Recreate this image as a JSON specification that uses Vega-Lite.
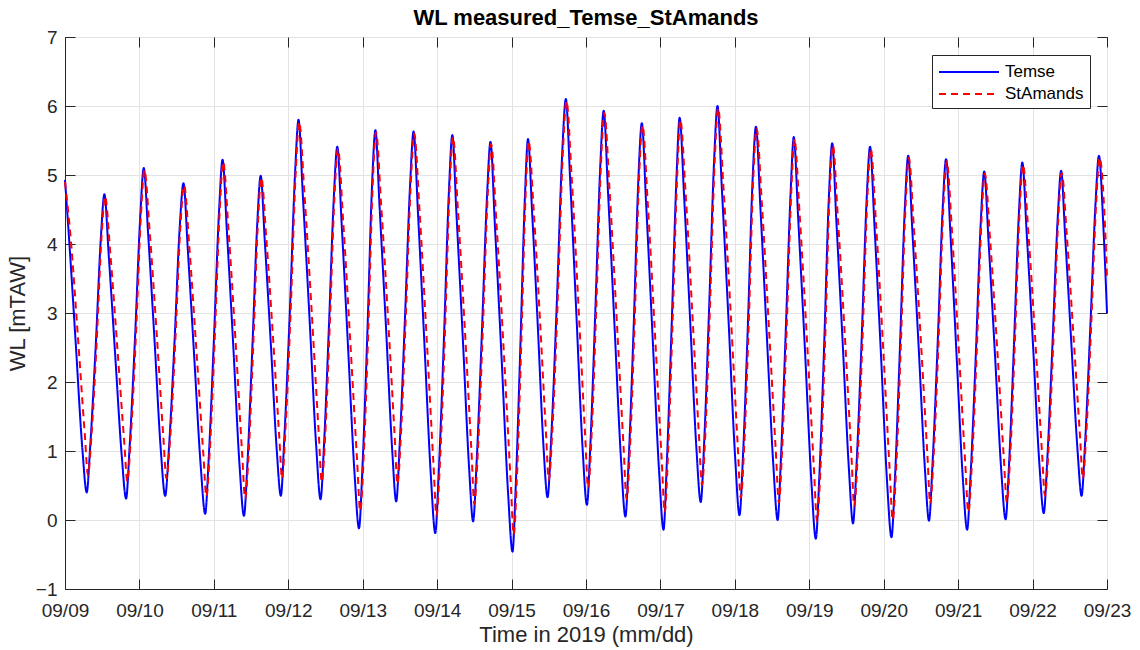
{
"$schema":"https://vega.github.io/schema/vega-lite/v6.json",
"width":1042,"height":552,
"autosize":{"type":"none"},
"padding":{"left":65,"top":37,"right":33,"bottom":61},
"background":"white",
"title":{"text":"WL measured_Temse_StAmands","fontSize":22,"font":"Liberation Sans","fontWeight":"bold","color":"black","offset":-2},
"config":{"font":"Liberation Sans","view":{"stroke":"#262626","strokeWidth":1}},
"data":{"values":[
{"hT":0,"T":4.93,"hS":0,"S":4.90},
{"hT":1.4,"T":4.02,"hS":1.9,"S":4.05},
{"hT":3.5,"T":2.53,"hS":4.2,"S":2.63},
{"hT":5.6,"T":1.03,"hS":6.4,"S":1.23},
{"hT":7.0,"T":0.40,"hS":7.4,"S":0.65},
{"hT":8.1,"T":1.05,"hS":8.5,"S":1.20},
{"hT":9.9,"T":2.52,"hS":10.2,"S":2.57},
{"hT":11.6,"T":4.12,"hS":11.8,"S":4.12},
{"hT":12.7,"T":4.72,"hS":12.9,"S":4.69},
{"hT":14.1,"T":3.84,"hS":14.6,"S":3.87},
{"hT":16.2,"T":2.38,"hS":16.9,"S":2.48},
{"hT":18.3,"T":0.93,"hS":19.1,"S":1.13},
{"hT":19.7,"T":0.31,"hS":20.1,"S":0.56},
{"hT":20.8,"T":1.03,"hS":21.2,"S":1.18},
{"hT":22.6,"T":2.66,"hS":22.9,"S":2.71},
{"hT":24.3,"T":4.43,"hS":24.5,"S":4.43},
{"hT":25.4,"T":5.10,"hS":25.6,"S":5.07},
{"hT":26.8,"T":4.15,"hS":27.3,"S":4.18},
{"hT":28.9,"T":2.58,"hS":29.6,"S":2.68},
{"hT":30.9,"T":1.01,"hS":31.7,"S":1.21},
{"hT":32.3,"T":0.35,"hS":32.7,"S":0.60},
{"hT":33.5,"T":1.03,"hS":33.9,"S":1.18},
{"hT":35.3,"T":2.57,"hS":35.6,"S":2.62},
{"hT":37.0,"T":4.25,"hS":37.2,"S":4.25},
{"hT":38.2,"T":4.88,"hS":38.4,"S":4.85},
{"hT":39.6,"T":3.92,"hS":40.1,"S":3.95},
{"hT":41.7,"T":2.34,"hS":42.4,"S":2.44},
{"hT":43.8,"T":0.76,"hS":44.6,"S":0.96},
{"hT":45.2,"T":0.09,"hS":45.6,"S":0.34},
{"hT":46.3,"T":0.86,"hS":46.7,"S":1.01},
{"hT":48.0,"T":2.60,"hS":48.3,"S":2.65},
{"hT":49.7,"T":4.50,"hS":49.9,"S":4.50},
{"hT":50.8,"T":5.22,"hS":51.0,"S":5.19},
{"hT":52.2,"T":4.19,"hS":52.7,"S":4.22},
{"hT":54.3,"T":2.49,"hS":55.0,"S":2.59},
{"hT":56.3,"T":0.78,"hS":57.1,"S":0.98},
{"hT":57.7,"T":0.06,"hS":58.1,"S":0.31},
{"hT":58.8,"T":0.80,"hS":59.2,"S":0.95},
{"hT":60.4,"T":2.48,"hS":60.7,"S":2.53},
{"hT":62.0,"T":4.30,"hS":62.2,"S":4.30},
{"hT":63.1,"T":4.99,"hS":63.3,"S":4.96},
{"hT":64.4,"T":4.06,"hS":64.9,"S":4.09},
{"hT":66.4,"T":2.53,"hS":67.1,"S":2.63},
{"hT":68.3,"T":1.00,"hS":69.1,"S":1.20},
{"hT":69.6,"T":0.35,"hS":70.0,"S":0.60},
{"hT":70.7,"T":1.17,"hS":71.1,"S":1.32},
{"hT":72.5,"T":3.02,"hS":72.8,"S":3.07},
{"hT":74.2,"T":5.04,"hS":74.4,"S":5.04},
{"hT":75.3,"T":5.80,"hS":75.5,"S":5.77},
{"hT":76.7,"T":4.70,"hS":77.2,"S":4.73},
{"hT":78.9,"T":2.88,"hS":79.6,"S":2.98},
{"hT":81.0,"T":1.07,"hS":81.8,"S":1.27},
{"hT":82.4,"T":0.30,"hS":82.8,"S":0.55},
{"hT":83.5,"T":1.07,"hS":83.9,"S":1.22},
{"hT":85.1,"T":2.80,"hS":85.4,"S":2.85},
{"hT":86.7,"T":4.69,"hS":86.9,"S":4.69},
{"hT":87.8,"T":5.41,"hS":88.0,"S":5.38},
{"hT":89.2,"T":4.30,"hS":89.7,"S":4.33},
{"hT":91.3,"T":2.48,"hS":92.0,"S":2.58},
{"hT":93.4,"T":0.65,"hS":94.2,"S":0.85},
{"hT":94.8,"T":-0.12,"hS":95.2,"S":0.13},
{"hT":95.9,"T":0.75,"hS":96.3,"S":0.90},
{"hT":97.5,"T":2.71,"hS":97.8,"S":2.76},
{"hT":99.0,"T":4.84,"hS":99.2,"S":4.84},
{"hT":100.1,"T":5.65,"hS":100.3,"S":5.62},
{"hT":101.4,"T":4.57,"hS":101.9,"S":4.60},
{"hT":103.5,"T":2.80,"hS":104.2,"S":2.90},
{"hT":105.5,"T":1.02,"hS":106.3,"S":1.22},
{"hT":106.8,"T":0.27,"hS":107.2,"S":0.52},
{"hT":107.9,"T":1.07,"hS":108.3,"S":1.22},
{"hT":109.6,"T":2.90,"hS":109.9,"S":2.95},
{"hT":111.3,"T":4.88,"hS":111.5,"S":4.88},
{"hT":112.4,"T":5.63,"hS":112.6,"S":5.60},
{"hT":113.8,"T":4.47,"hS":114.3,"S":4.50},
{"hT":115.9,"T":2.55,"hS":116.6,"S":2.65},
{"hT":118.0,"T":0.62,"hS":118.8,"S":0.82},
{"hT":119.4,"T":-0.19,"hS":119.8,"S":0.06},
{"hT":120.5,"T":0.68,"hS":120.9,"S":0.83},
{"hT":122.2,"T":2.64,"hS":122.5,"S":2.69},
{"hT":123.8,"T":4.77,"hS":124.0,"S":4.77},
{"hT":124.9,"T":5.58,"hS":125.1,"S":5.55},
{"hT":126.2,"T":4.46,"hS":126.7,"S":4.49},
{"hT":128.3,"T":2.61,"hS":129.0,"S":2.71},
{"hT":130.3,"T":0.76,"hS":131.1,"S":0.96},
{"hT":131.6,"T":-0.02,"hS":132.0,"S":0.23},
{"hT":132.7,"T":0.81,"hS":133.1,"S":0.96},
{"hT":134.4,"T":2.68,"hS":134.7,"S":2.73},
{"hT":136.1,"T":4.71,"hS":136.3,"S":4.71},
{"hT":137.2,"T":5.48,"hS":137.4,"S":5.45},
{"hT":138.6,"T":4.29,"hS":139.1,"S":4.32},
{"hT":140.8,"T":2.33,"hS":141.5,"S":2.43},
{"hT":142.9,"T":0.37,"hS":143.7,"S":0.57},
{"hT":144.3,"T":-0.46,"hS":144.7,"S":-0.21},
{"hT":145.3,"T":0.44,"hS":145.7,"S":0.59},
{"hT":146.8,"T":2.47,"hS":147.1,"S":2.52},
{"hT":148.3,"T":4.68,"hS":148.5,"S":4.68},
{"hT":149.3,"T":5.52,"hS":149.5,"S":5.49},
{"hT":150.6,"T":4.48,"hS":151.1,"S":4.51},
{"hT":152.5,"T":2.77,"hS":153.2,"S":2.87},
{"hT":154.3,"T":1.06,"hS":155.1,"S":1.26},
{"hT":155.6,"T":0.33,"hS":156.0,"S":0.58},
{"hT":156.8,"T":1.20,"hS":157.2,"S":1.35},
{"hT":158.6,"T":3.16,"hS":158.9,"S":3.21},
{"hT":160.3,"T":5.29,"hS":160.5,"S":5.29},
{"hT":161.5,"T":6.10,"hS":161.7,"S":6.07},
{"hT":162.9,"T":4.92,"hS":163.4,"S":4.95},
{"hT":164.9,"T":2.98,"hS":165.6,"S":3.08},
{"hT":166.9,"T":1.04,"hS":167.7,"S":1.24},
{"hT":168.3,"T":0.22,"hS":168.7,"S":0.47},
{"hT":169.4,"T":1.08,"hS":169.8,"S":1.23},
{"hT":171.0,"T":3.02,"hS":171.3,"S":3.07},
{"hT":172.6,"T":5.13,"hS":172.8,"S":5.13},
{"hT":173.7,"T":5.93,"hS":173.9,"S":5.90},
{"hT":175.1,"T":4.75,"hS":175.6,"S":4.78},
{"hT":177.2,"T":2.81,"hS":177.9,"S":2.91},
{"hT":179.3,"T":0.87,"hS":180.1,"S":1.07},
{"hT":180.7,"T":0.05,"hS":181.1,"S":0.30},
{"hT":181.8,"T":0.91,"hS":182.2,"S":1.06},
{"hT":183.4,"T":2.84,"hS":183.7,"S":2.89},
{"hT":184.9,"T":4.95,"hS":185.1,"S":4.95},
{"hT":186.0,"T":5.75,"hS":186.2,"S":5.72},
{"hT":187.4,"T":4.57,"hS":187.9,"S":4.60},
{"hT":189.5,"T":2.63,"hS":190.2,"S":2.73},
{"hT":191.6,"T":0.68,"hS":192.4,"S":0.88},
{"hT":193.0,"T":-0.14,"hS":193.4,"S":0.11},
{"hT":194.0,"T":0.76,"hS":194.4,"S":0.91},
{"hT":195.6,"T":2.79,"hS":195.9,"S":2.84},
{"hT":197.2,"T":4.99,"hS":197.4,"S":4.99},
{"hT":198.2,"T":5.83,"hS":198.4,"S":5.80},
{"hT":199.6,"T":4.72,"hS":200.1,"S":4.75},
{"hT":201.6,"T":2.88,"hS":202.3,"S":2.98},
{"hT":203.6,"T":1.04,"hS":204.4,"S":1.24},
{"hT":205.0,"T":0.26,"hS":205.4,"S":0.51},
{"hT":206.1,"T":1.12,"hS":206.5,"S":1.27},
{"hT":207.7,"T":3.07,"hS":208.0,"S":3.12},
{"hT":209.3,"T":5.20,"hS":209.5,"S":5.20},
{"hT":210.4,"T":6.00,"hS":210.6,"S":5.97},
{"hT":211.8,"T":4.81,"hS":212.3,"S":4.84},
{"hT":214.0,"T":2.86,"hS":214.7,"S":2.96},
{"hT":216.1,"T":0.90,"hS":216.9,"S":1.10},
{"hT":217.5,"T":0.07,"hS":217.9,"S":0.32},
{"hT":218.6,"T":0.91,"hS":219.0,"S":1.06},
{"hT":220.2,"T":2.83,"hS":220.5,"S":2.88},
{"hT":221.7,"T":4.91,"hS":221.9,"S":4.91},
{"hT":222.8,"T":5.70,"hS":223.0,"S":5.67},
{"hT":224.2,"T":4.56,"hS":224.7,"S":4.59},
{"hT":226.3,"T":2.68,"hS":227.0,"S":2.78},
{"hT":228.4,"T":0.80,"hS":229.2,"S":1.00},
{"hT":229.8,"T":0.00,"hS":230.2,"S":0.25},
{"hT":230.8,"T":0.83,"hS":231.2,"S":0.98},
{"hT":232.4,"T":2.72,"hS":232.7,"S":2.77},
{"hT":234.0,"T":4.77,"hS":234.2,"S":4.77},
{"hT":235.0,"T":5.55,"hS":235.2,"S":5.52},
{"hT":236.4,"T":4.39,"hS":236.9,"S":4.42},
{"hT":238.6,"T":2.47,"hS":239.3,"S":2.57},
{"hT":240.7,"T":0.54,"hS":241.5,"S":0.74},
{"hT":242.1,"T":-0.27,"hS":242.5,"S":-0.02},
{"hT":243.2,"T":0.59,"hS":243.6,"S":0.74},
{"hT":244.8,"T":2.54,"hS":245.1,"S":2.59},
{"hT":246.3,"T":4.66,"hS":246.5,"S":4.66},
{"hT":247.4,"T":5.46,"hS":247.6,"S":5.43},
{"hT":248.7,"T":4.36,"hS":249.2,"S":4.39},
{"hT":250.8,"T":2.54,"hS":251.5,"S":2.64},
{"hT":252.8,"T":0.72,"hS":253.6,"S":0.92},
{"hT":254.1,"T":-0.05,"hS":254.5,"S":0.20},
{"hT":255.2,"T":0.77,"hS":255.6,"S":0.92},
{"hT":256.9,"T":2.63,"hS":257.2,"S":2.68},
{"hT":258.5,"T":4.65,"hS":258.7,"S":4.65},
{"hT":259.6,"T":5.41,"hS":259.8,"S":5.38},
{"hT":261.0,"T":4.28,"hS":261.5,"S":4.31},
{"hT":263.1,"T":2.41,"hS":263.8,"S":2.51},
{"hT":265.1,"T":0.54,"hS":265.9,"S":0.74},
{"hT":266.5,"T":-0.25,"hS":266.9,"S":0.00},
{"hT":267.6,"T":0.58,"hS":268.0,"S":0.73},
{"hT":269.2,"T":2.46,"hS":269.5,"S":2.51},
{"hT":270.8,"T":4.51,"hS":271.0,"S":4.51},
{"hT":271.9,"T":5.28,"hS":272.1,"S":5.25},
{"hT":273.2,"T":4.22,"hS":273.7,"S":4.25},
{"hT":275.3,"T":2.48,"hS":276.0,"S":2.58},
{"hT":277.3,"T":0.73,"hS":278.1,"S":0.93},
{"hT":278.6,"T":-0.01,"hS":279.0,"S":0.24},
{"hT":279.7,"T":0.78,"hS":280.1,"S":0.93},
{"hT":281.4,"T":2.56,"hS":281.7,"S":2.61},
{"hT":283.0,"T":4.50,"hS":283.2,"S":4.50},
{"hT":284.1,"T":5.23,"hS":284.3,"S":5.20},
{"hT":285.5,"T":4.16,"hS":286.0,"S":4.19},
{"hT":287.5,"T":2.38,"hS":288.2,"S":2.48},
{"hT":289.5,"T":0.61,"hS":290.3,"S":0.81},
{"hT":290.9,"T":-0.14,"hS":291.3,"S":0.11},
{"hT":292.0,"T":0.64,"hS":292.4,"S":0.79},
{"hT":293.7,"T":2.40,"hS":294.0,"S":2.45},
{"hT":295.3,"T":4.32,"hS":295.5,"S":4.32},
{"hT":296.4,"T":5.05,"hS":296.6,"S":5.02},
{"hT":297.8,"T":4.04,"hS":298.3,"S":4.07},
{"hT":299.9,"T":2.38,"hS":300.6,"S":2.48},
{"hT":301.9,"T":0.72,"hS":302.7,"S":0.92},
{"hT":303.3,"T":0.01,"hS":303.7,"S":0.26},
{"hT":304.4,"T":0.79,"hS":304.8,"S":0.94},
{"hT":306.0,"T":2.54,"hS":306.3,"S":2.59},
{"hT":307.6,"T":4.46,"hS":307.8,"S":4.46},
{"hT":308.7,"T":5.18,"hS":308.9,"S":5.15},
{"hT":310.1,"T":4.16,"hS":310.6,"S":4.19},
{"hT":312.2,"T":2.49,"hS":312.9,"S":2.59},
{"hT":314.2,"T":0.81,"hS":315.0,"S":1.01},
{"hT":315.6,"T":0.10,"hS":316.0,"S":0.35},
{"hT":316.7,"T":0.84,"hS":317.1,"S":0.99},
{"hT":318.4,"T":2.53,"hS":318.7,"S":2.58},
{"hT":320.1,"T":4.37,"hS":320.3,"S":4.37},
{"hT":321.2,"T":5.06,"hS":321.4,"S":5.03},
{"hT":322.5,"T":4.12,"hS":323.0,"S":4.15},
{"hT":324.5,"T":2.56,"hS":325.2,"S":2.66},
{"hT":326.5,"T":1.01,"hS":327.3,"S":1.21},
{"hT":327.8,"T":0.35,"hS":328.2,"S":0.60},
{"hT":328.9,"T":1.09,"hS":329.3,"S":1.24},
{"hT":330.6,"T":2.77,"hS":330.9,"S":2.82},
{"hT":332.3,"T":4.59,"hS":332.5,"S":4.59},
{"hT":333.4,"T":5.28,"hS":333.6,"S":5.25},
{"hT":334.8,"T":4.28,"hS":335.3,"S":4.31},
{"hT":336.0,"T":3.00,"hS":336.0,"S":3.50}
]},
"layer":[
{"mark":{"type":"line","interpolate":"monotone","strokeWidth":2},
 "encoding":{
  "x":{"field":"hT","type":"quantitative","scale":{"domain":[0,336],"nice":false,"zero":false},
   "axis":{"values":[0,24,48,72,96,120,144,168,192,216,240,264,288,312,336],
    "labelExpr":"'09/' + (datum.value/24 + 9 < 10 ? '0' : '') + (datum.value/24 + 9)",
    "labelFontSize":19,"labelColor":"#262626","labelPadding":22,"labelFlush":false,"labelOverlap":false,"labelBound":false,
    "tickSize":-10,"tickColor":"#262626","domainColor":"#262626","grid":true,"gridColor":"#e3e3e3","gridWidth":1,
    "title":"Time in 2019 (mm/dd)","titleFontSize":22,"titleFontWeight":"normal","titleColor":"#262626","titlePadding":4}},
  "y":{"field":"T","type":"quantitative","scale":{"domain":[-1,7],"nice":false,"zero":false},
   "axis":{"values":[-1,0,1,2,3,4,5,6,7],"labelFontSize":19,"labelColor":"#262626","labelPadding":18,"labelFlush":false,"labelOverlap":false,"labelBound":false,
    "tickSize":-10,"tickColor":"#262626","domainColor":"#262626","grid":true,"gridColor":"#e3e3e3","gridWidth":1,
    "title":"WL [mTAW]","titleFontSize":22,"titleFontWeight":"normal","titleColor":"#262626","titlePadding":6}},
  "color":{"datum":"Temse","type":"nominal","scale":{"domain":["Temse","StAmands"],"range":["#0000ff","#ff0000"]},
   "legend":{"title":null,"orient":"none","legendX":867,"legendY":18,"strokeColor":"#262626","fillColor":"white","padding":6,"cornerRadius":0,
    "symbolType":"M-3,0H3","symbolSize":400,"symbolStrokeWidth":2,"symbolOffset":20,"labelFontSize":17,"labelColor":"black","labelOffset":25,"rowPadding":3}},
  "strokeDash":{"datum":"Temse","type":"nominal","scale":{"domain":["Temse","StAmands"],"range":[[1,0],[7,5]]},
   "legend":{"title":null,"orient":"none","legendX":867,"legendY":18,"strokeColor":"#262626","fillColor":"white","padding":6,"cornerRadius":0,
    "symbolType":"M-3,0H3","symbolSize":400,"symbolStrokeWidth":2,"symbolOffset":20,"labelFontSize":17,"labelColor":"black","labelOffset":25,"rowPadding":3}}
 }},
{"mark":{"type":"line","interpolate":"monotone","strokeWidth":2},
 "encoding":{
  "x":{"field":"hS","type":"quantitative",
   "axis":{"orient":"top","values":[0,24,48,72,96,120,144,168,192,216,240,264,288,312,336],"labels":false,"grid":false,"domain":false,"tickSize":-10,"tickColor":"#262626","title":null}},
  "y":{"field":"S","type":"quantitative",
   "axis":{"orient":"right","values":[-1,0,1,2,3,4,5,6,7],"labels":false,"grid":false,"domain":false,"tickSize":-10,"tickColor":"#262626","title":null}},
  "color":{"datum":"StAmands","type":"nominal"},
  "strokeDash":{"datum":"StAmands","type":"nominal"}
 }}
],
"resolve":{"axis":{"x":"independent","y":"independent"}}
}
